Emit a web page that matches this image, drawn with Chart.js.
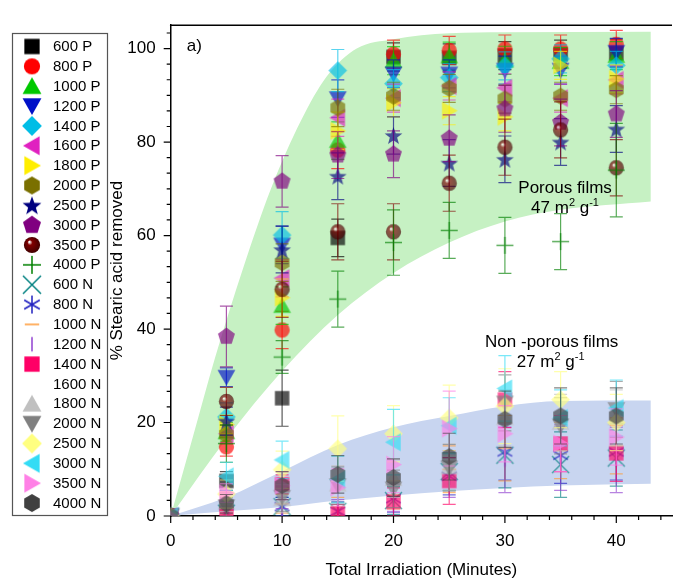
<!DOCTYPE html>
<html>
<head>
<meta charset="utf-8">
<script src="https://cdn.jsdelivr.net/npm/chart.js@4.4.1/dist/chart.umd.min.js"></script>
<style>
  html, body { margin: 0; padding: 0; background: #fff; }
</style>
</head>
<body>
<canvas id="chart" width="681" height="579"></canvas>
<script>
// irradiation times (minutes)
const times = [0, 5, 10, 15, 20, 25, 30, 35, 40];

// porous films
const p600  = [0, 7.5, 25.2, 59.5, 98.2, 98.0, 98.5, 98.8, 99.0];
const p800  = [0, 14.8, 39.8, 78.3, 98.8, 99.6, 99.9, 99.9, 100.9];
const p1000 = [0, 18.0, 45.0, 80.3, 97.4, 98.4, 97.5, 97.2, 98.5];
const p1200 = [0, 29.7, 58.0, 89.3, 94.6, 94.6, 95.4, 95.4, 99.2];
const p1400 = [0, 21.2, 60.1, 95.3, 92.5, 93.8, 96.3, 97.8, 96.4];
const p1600 = [0, 17.6, 50.9, 85.2, 89.4, 92.0, 91.6, 89.4, 93.3];
const p1800 = [0, 19.6, 46.7, 82.4, 88.4, 86.7, 85.4, 96.4, 93.5];
const p2000 = [0, 17.4, 54.2, 87.3, 89.8, 91.5, 89.2, 89.8, 91.2];
const p2500 = [0, 20.3, 57.0, 72.7, 81.4, 75.5, 76.3, 80.0, 82.8];
const p3000 = [0, 38.4, 71.6, 77.2, 77.4, 80.8, 87.1, 84.2, 86.0];
const p3500 = [0, 24.5, 48.5, 60.8, 60.8, 71.2, 78.9, 82.6, 74.5];
const p4000 = [0, 15.5, 34.0, 46.4, 58.5, 61.1, 57.9, 58.7, 74.0];

// non-porous films
const n600  = [0, 0.6, 2.0, 1.0, 3.3, 9.5, 13.0, 11.0, 12.4];
const n800  = [0, 0.6, 2.0, 1.0, 3.7, 8.5, 13.7, 13.0, 13.7];
const n1000 = [0, 1.2, 2.6, 2.0, 4.5, 10.0, 14.5, 14.0, 15.0];
const n1200 = [0, 1.0, 0.6, 1.5, 4.0, 9.0, 12.0, 12.5, 12.0];
const n1400 = [0, 0.3, 6.8, 0.5, 3.0, 7.5, 24.9, 15.5, 13.4];
const n1600 = [0, 1.0, 3.0, 3.0, 5.0, 8.0, 15.0, 14.0, 14.0];
const n1800 = [0, 3.0, 3.7, 6.8, 8.0, 10.5, 21.0, 20.0, 21.0];
const n2000 = [0, 2.0, 4.0, 6.5, 5.8, 10.3, 24.2, 19.3, 22.8];
const n2500 = [0, 4.7, 9.9, 14.4, 17.6, 21.0, 23.5, 24.9, 20.0];
const n3000 = [0, 8.5, 12.0, 7.8, 15.8, 19.3, 27.3, 21.0, 23.1];
const n3500 = [0, 4.9, 6.5, 6.1, 11.0, 18.7, 17.6, 15.5, 16.9];
const n4000 = [0, 2.6, 6.5, 8.9, 8.2, 12.7, 20.7, 21.4, 21.4];

// error bars (+/-)
const p600E  = [0, 2, 6, 4, 3, 3, 3, 3, 3];
const p800E  = [0, 2, 4, 4, 3, 3, 3, 3, 3];
const p1000E = [0, 2, 4, 4, 3, 3, 3, 3, 3];
const p1200E = [0, 2, 4, 4, 3, 3, 3, 3, 3];
const p1400E = [0, 3, 5, 4.5, 3, 3, 3, 3, 3];
const p1600E = [0, 2, 4, 4, 3, 3, 3, 3, 3];
const p1800E = [0, 2, 4, 4, 3, 3, 3, 3, 3];
const p2000E = [0, 2, 4, 4, 3, 3, 3, 3, 3];
const p2500E = [0, 3, 5, 5, 4, 5, 5, 5, 5];
const p3000E = [0, 6.5, 5.5, 5, 5, 5, 5, 5, 5];
const p3500E = [0, 3, 6, 6, 6, 6, 6, 6, 6];
const p4000E = [0, 4, 3.5, 6, 7, 6, 6, 6, 10];
const n600E  = [0, 1, 2, 2, 3, 4, 7, 7, 6];
const n800E  = [0, 1, 2, 2, 3, 4, 6, 6, 6];
const n1000E = [0, 1, 2, 2, 3, 5, 7, 6, 6];
const n1200E = [0, 1, 1, 2, 3, 5, 7, 7, 7];
const n1400E = [0, 1, 2, 2, 3, 5, 6, 6, 6];
const n1600E = [0, 1, 2, 2, 3, 4, 6, 6, 6];
const n1800E = [0, 2, 3, 4, 4, 5, 6, 6, 6];
const n2000E = [0, 2, 3, 4, 4, 5, 6, 6, 6];
const n2500E = [0, 3, 4, 7, 6, 7, 8, 6, 6];
const n3000E = [0, 3, 4, 5, 7, 6, 7, 6, 6];
const n3500E = [0, 2, 3, 4, 6, 8, 6, 6, 6];
const n4000E = [0, 2, 3, 4, 4, 5, 6, 6, 6];

// shaded bands
const greenUpperT = [0, 2, 4, 6.5, 9, 11.7, 14, 16.7, 20, 25, 30, 43.1];
const greenUpperV = [0, 17, 34, 53, 70, 84.6, 94, 100, 102, 103.3, 103.5, 103.6];
const greenLowerT = [0, 5, 10, 15, 20, 25, 30, 35, 43.1];
const greenLowerV = [0, 16.5, 31, 43, 52, 58.5, 63, 65.5, 67.3];
const blueUpperT = [0, 5, 10, 15, 20, 25, 30, 35, 43.1];
const blueUpperV = [0, 4, 9.6, 15.2, 19, 21.4, 23.5, 24.6, 24.7];
const blueLowerT = [0, 5, 10, 15, 20, 25, 30, 35, 43.1];
const blueLowerV = [0, 1.0, 1.9, 3.3, 4.4, 5.3, 6.0, 6.5, 6.9];

const xTicks = [0, 10, 20, 30, 40];
const yTicks = [0, 20, 40, 60, 80, 100];

const seriesLabels = ['600 P', '800 P', '1000 P', '1200 P', '1400 P', '1600 P', '1800 P', '2000 P',
  '2500 P', '3000 P', '3500 P', '4000 P', '600 N', '800 N', '1000 N', '1200 N', '1400 N', '1600 N',
  '1800 N', '2000 N', '2500 N', '3000 N', '3500 N', '4000 N'];
const seriesValues = [p600, p800, p1000, p1200, p1400, p1600, p1800, p2000, p2500, p3000, p3500, p4000,
  n600, n800, n1000, n1200, n1400, n1600, n1800, n2000, n2500, n3000, n3500, n4000];
const seriesErrors = [p600E, p800E, p1000E, p1200E, p1400E, p1600E, p1800E, p2000E, p2500E, p3000E, p3500E, p4000E,
  n600E, n800E, n1000E, n1200E, n1400E, n1600E, n1800E, n2000E, n2500E, n3000E, n3500E, n4000E];
const seriesShapes = ['square', 'circle', 'triUp', 'triDown', 'diamond', 'triLeft', 'triRight', 'hexagon',
  'star', 'pentagon', 'ball', 'plus', 'cross', 'asterisk', 'dash', 'vline', 'square', 'none',
  'triUp', 'triDown', 'diamond', 'triLeft', 'triRight', 'hexagon'];
const seriesColors = ['#000000', '#ff0000', '#00c800', '#0010c8', '#00bde6', '#e020c0', '#ffee00', '#7a7000',
  '#000080', '#800080', '#800000', '#008000', '#008080', '#2020c0', '#ff9933', '#9040d0', '#ff0066', '#ffffff',
  '#c0c0c0', '#808080', '#ffff80', '#33dcf5', '#ff80e6', '#404040'];

const FONT = '"Liberation Sans", Arial, sans-serif';

function makeMarker(shape, color, size, alpha) {
  const s = size + 8;
  const c = document.createElement('canvas');
  c.width = s; c.height = s;
  const g = c.getContext('2d');
  g.globalAlpha = alpha;
  g.translate(s / 2, s / 2);
  const r = size / 2;
  g.fillStyle = color;
  g.strokeStyle = color;
  g.lineWidth = 1.5;
  function poly(pts) {
    g.beginPath();
    pts.forEach(function (p, i) { if (i) g.lineTo(p[0], p[1]); else g.moveTo(p[0], p[1]); });
    g.closePath();
    g.fill();
  }
  function reg(n, rr, rot) {
    const pts = [];
    for (let i = 0; i < n; i++) {
      const a = rot + i * 2 * Math.PI / n;
      pts.push([rr * Math.cos(a), rr * Math.sin(a)]);
    }
    return pts;
  }
  function lines(segs) {
    g.beginPath();
    segs.forEach(function (q) { g.moveTo(q[0], q[1]); g.lineTo(q[2], q[3]); });
    g.stroke();
  }
  switch (shape) {
    case 'square': g.fillRect(-r * 0.85, -r * 0.85, r * 1.7, r * 1.7); break;
    case 'circle': g.beginPath(); g.arc(0, 0, r * 0.9, 0, 2 * Math.PI); g.fill(); break;
    case 'triUp': poly([[0, -r], [r * 1.05, r * 0.85], [-r * 1.05, r * 0.85]]); break;
    case 'triDown': poly([[0, r], [r * 1.05, -r * 0.85], [-r * 1.05, -r * 0.85]]); break;
    case 'triLeft': poly([[-r, 0], [r * 0.85, -r * 1.05], [r * 0.85, r * 1.05]]); break;
    case 'triRight': poly([[r, 0], [-r * 0.85, -r * 1.05], [-r * 0.85, r * 1.05]]); break;
    case 'diamond': poly([[0, -r * 1.1], [r * 1.1, 0], [0, r * 1.1], [-r * 1.1, 0]]); break;
    case 'hexagon': poly(reg(6, r, -Math.PI / 2)); break;
    case 'pentagon': poly(reg(5, r * 1.05, -Math.PI / 2)); break;
    case 'star': {
      const pts = [];
      for (let i = 0; i < 10; i++) {
        const a = -Math.PI / 2 + i * Math.PI / 5;
        const rr = i % 2 ? r * 0.45 : r * 1.1;
        pts.push([rr * Math.cos(a), rr * Math.sin(a) + r * 0.1]);
      }
      poly(pts);
      break;
    }
    case 'ball': {
      const gr = g.createRadialGradient(-r * 0.3, -r * 0.35, r * 0.05, 0, 0, r);
      gr.addColorStop(0, '#ffffff');
      gr.addColorStop(0.25, color);
      gr.addColorStop(1, '#3a0000');
      g.fillStyle = gr;
      g.beginPath(); g.arc(0, 0, r * 0.9, 0, 2 * Math.PI); g.fill();
      break;
    }
    case 'plus': lines([[-r, 0, r, 0], [0, -r, 0, r]]); break;
    case 'cross': lines([[-r, -r, r, r], [-r, r, r, -r]]); break;
    case 'asterisk': {
      const d = r * Math.sin(Math.PI / 3), h = r * 0.5;
      lines([[0, -r, 0, r], [-d, -h, d, h], [-d, h, d, -h]]);
      break;
    }
    case 'dash': lines([[-r * 0.8, 0, r * 0.8, 0]]); break;
    case 'vline': lines([[0, -r * 0.8, 0, r * 0.8]]); break;
    default: break;
  }
  return c;
}

const plotMarkers = seriesShapes.map((sh, i) => makeMarker(sh, seriesColors[i], 17, 0.66));
const legendIcons = seriesShapes.map((sh, i) => makeMarker(sh, seriesColors[i], 18, 1));

function hexToRgba(hex, a) {
  const n = parseInt(hex.slice(1), 16);
  return 'rgba(' + (n >> 16) + ',' + ((n >> 8) & 255) + ',' + (n & 255) + ',' + a + ')';
}

function band(ts, vs) {
  return ts.map((t, i) => ({ x: t, y: vs[i] }));
}

const datasets = [
  { type: 'line', label: 'gl', data: band(greenLowerT, greenLowerV), showLine: true, borderWidth: 0,
    pointRadius: 0, fill: false, cubicInterpolationMode: 'monotone', order: 100 },
  { type: 'line', label: 'gu', data: band(greenUpperT, greenUpperV), showLine: true, borderWidth: 0,
    pointRadius: 0, fill: '-1', backgroundColor: '#c6f1c3', cubicInterpolationMode: 'monotone', order: 100 },
  { type: 'line', label: 'bl', data: band(blueLowerT, blueLowerV), showLine: true, borderWidth: 0,
    pointRadius: 0, fill: false, cubicInterpolationMode: 'monotone', order: 100 },
  { type: 'line', label: 'bu', data: band(blueUpperT, blueUpperV), showLine: true, borderWidth: 0,
    pointRadius: 0, fill: '-1', backgroundColor: '#c8d5f0', cubicInterpolationMode: 'monotone', order: 100 }
];

seriesLabels.forEach((lab, i) => {
  datasets.push({
    type: 'scatter',
    label: lab,
    data: times.map((t, j) => ({ x: t, y: seriesValues[i][j] })),
    errors: seriesErrors[i],
    errColor: seriesColors[i] === '#ffffff' ? 'rgba(0,0,0,0)' : hexToRgba(seriesColors[i], 0.65),
    pointStyle: plotMarkers[i],
    pointRadius: 8,
    showLine: false,
    order: -i
  });
});

// error bars, drawn just before each series so later series sit on top
const errorBars = {
  id: 'errorBars',
  beforeDatasetDraw(chart, args) {
    const ds = chart.data.datasets[args.index];
    if (!ds.errors) return;
    const { ctx, chartArea: a, scales: { x, y } } = chart;
    ctx.save();
    ctx.beginPath();
    ctx.rect(a.left, a.top, a.right - a.left, a.bottom - a.top);
    ctx.clip();
    ctx.strokeStyle = ds.errColor;
    ctx.lineWidth = 1.2;
    ds.data.forEach((p, j) => {
      const e = ds.errors[j];
      if (!e) return;
      const px = x.getPixelForValue(p.x);
      const top = y.getPixelForValue(p.y + e);
      const bot = y.getPixelForValue(p.y - e);
      ctx.beginPath();
      ctx.moveTo(px, top); ctx.lineTo(px, bot);
      ctx.moveTo(px - 6.5, top); ctx.lineTo(px + 6.5, top);
      ctx.moveTo(px - 6.5, bot); ctx.lineTo(px + 6.5, bot);
      ctx.stroke();
    });
    ctx.restore();
  }
};

// minor/major tick marks and the top frame line
const frameTicks = {
  id: 'frameTicks',
  afterDraw(chart) {
    const { ctx, chartArea: a, scales: { x, y } } = chart;
    ctx.save();
    ctx.strokeStyle = '#000';
    ctx.lineWidth = 1.5;
    ctx.beginPath();
    ctx.moveTo(a.left - 0.75, a.top); ctx.lineTo(a.right, a.top);
    ctx.stroke();
    ctx.lineWidth = 1.2;
    ctx.beginPath();
    for (let t = 0; t <= 44; t += 2) {
      const px = x.getPixelForValue(t);
      ctx.moveTo(px, a.bottom); ctx.lineTo(px, a.bottom + (t % 10 === 0 ? 7 : 4));
    }
    for (let i = 0; i * 10 / 3 <= 105; i++) {
      const py = y.getPixelForValue(i * 10 / 3);
      ctx.moveTo(a.left, py); ctx.lineTo(a.left - (i % 6 === 0 ? 7 : 4), py);
    }
    ctx.stroke();
    ctx.restore();
  }
};

function drawSupText(ctx, parts, cx, baseline, size) {
  const big = size + 'px ' + FONT, small = Math.round(size * 0.65) + 'px ' + FONT;
  let w = 0;
  parts.forEach(p => { ctx.font = p.sup ? small : big; w += ctx.measureText(p.t).width; });
  let xx = cx - w / 2;
  ctx.textAlign = 'left';
  ctx.textBaseline = 'alphabetic';
  parts.forEach(p => {
    ctx.font = p.sup ? small : big;
    ctx.fillText(p.t, xx, p.sup ? baseline - size * 0.42 : baseline);
    xx += ctx.measureText(p.t).width;
  });
}

// panel label, film annotations and legend
const annotations = {
  id: 'annotations',
  afterDraw(chart) {
    const { ctx, scales: { x, y } } = chart;
    ctx.save();
    ctx.fillStyle = '#000';
    ctx.font = '17px ' + FONT;
    ctx.textBaseline = 'alphabetic';
    ctx.textAlign = 'left';
    ctx.fillText('a)', x.getPixelForValue(1.45), y.getPixelForValue(99.5));
    ctx.textAlign = 'center';
    ctx.fillText('Porous films', x.getPixelForValue(35.4), y.getPixelForValue(69));
    drawSupText(ctx, [{ t: '47 m' }, { t: '2', sup: true }, { t: ' g' }, { t: '-1', sup: true }],
      x.getPixelForValue(35.4), y.getPixelForValue(64.8), 17);
    ctx.textAlign = 'center';
    ctx.font = '17px ' + FONT;
    ctx.fillText('Non -porous films', x.getPixelForValue(34.2), y.getPixelForValue(36.2));
    drawSupText(ctx, [{ t: '27 m' }, { t: '2', sup: true }, { t: ' g' }, { t: '-1', sup: true }],
      x.getPixelForValue(34.1), y.getPixelForValue(31.9), 17);

    // legend
    ctx.strokeStyle = '#555';
    ctx.lineWidth = 1.2;
    ctx.strokeRect(12.5, 33.5, 95, 482);
    ctx.font = '15px ' + FONT;
    ctx.textAlign = 'left';
    ctx.textBaseline = 'middle';
    ctx.fillStyle = '#000';
    seriesLabels.forEach((lab, i) => {
      const yy = 46.5 + i * 19.85;
      const ic = legendIcons[i];
      ctx.drawImage(ic, 32 - ic.width / 2, yy - ic.height / 2);
      ctx.fillText(lab, 53, yy + 0.5);
    });
    ctx.restore();
  }
};

new Chart(document.getElementById('chart'), {
  type: 'scatter',
  data: { datasets: datasets },
  options: {
    responsive: false,
    animation: false,
    layout: { padding: { left: 100, top: 12, right: 0, bottom: 0 } },
    plugins: { legend: { display: false }, tooltip: { enabled: false } },
    scales: {
      x: {
        type: 'linear', min: 0, max: 45,
        afterBuildTicks: s => { s.ticks = xTicks.map(v => ({ value: v })); },
        afterFit: s => { s.height = 63; },
        grid: { display: false, drawTicks: false },
        border: { display: true, color: '#000', width: 1.5 },
        ticks: { color: '#000', font: { size: 17, family: FONT }, padding: 15, maxRotation: 0 },
        title: { display: true, text: 'Total Irradiation (Minutes)', color: '#000',
          font: { size: 17, family: FONT, lineHeight: 1 }, padding: { top: 0, bottom: 0 } }
      },
      y: {
        type: 'linear', min: 0, max: 105,
        afterBuildTicks: s => { s.ticks = yTicks.map(v => ({ value: v })); },
        afterFit: s => { s.width = 70.7; },
        grid: { display: false, drawTicks: false },
        border: { display: true, color: '#000', width: 1.5 },
        ticks: { color: '#000', font: { size: 17, family: FONT }, padding: 15 },
        title: { display: true, text: '% Stearic acid removed', color: '#000',
          font: { size: 17, family: FONT, lineHeight: 1 }, padding: { top: 9, bottom: 0 } }
      }
    }
  },
  plugins: [errorBars, frameTicks, annotations]
});
</script>
</body>
</html>
